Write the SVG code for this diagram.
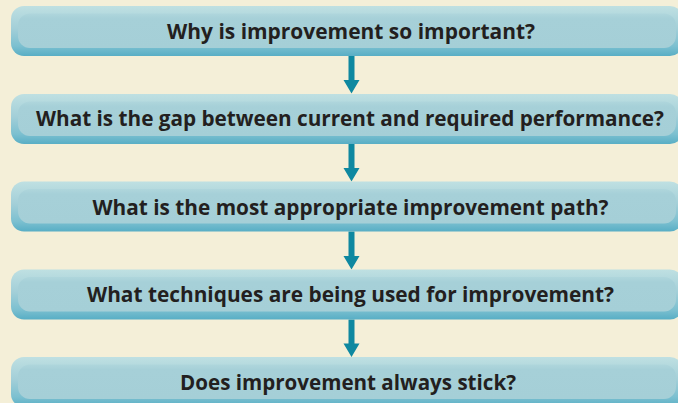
<svg xmlns="http://www.w3.org/2000/svg" width="678" height="403" viewBox="0 0 678 403">
<defs>
<linearGradient id="outerG" x1="0" y1="0" x2="0" y2="1">
<stop offset="0" stop-color="#BFE0E2"/>
<stop offset="0.45" stop-color="#A3CFD8"/>
<stop offset="0.8" stop-color="#7CC0D0"/>
<stop offset="1" stop-color="#58AEC5"/>
</linearGradient>
<linearGradient id="innerG" x1="0" y1="0" x2="0" y2="1">
<stop offset="0" stop-color="#AFD6DC"/>
<stop offset="0.15" stop-color="#A6D0D8"/>
<stop offset="1" stop-color="#A5CFD7"/>
</linearGradient>
<style>
.outer{fill:url(#outerG)}
.inner{fill:url(#innerG)}
.lbl{font-family:"Open Sans","Noto Sans","Liberation Sans",sans-serif;font-weight:bold;font-size:20.5px;fill:#231F20;text-anchor:middle}
.arr{fill:#0E88A0}
</style>
</defs>
<rect width="678" height="403" fill="#F4EFD8"/>
<g id="connectors">
<path class="arr" d="M348.5 56 H354.5 V80 H359.5 L351.5 93.5 L343.5 80 H348.5 Z"/>
<path class="arr" d="M348.5 144 H354.5 V168 H359.5 L351.5 181.5 L343.5 168 H348.5 Z"/>
<path class="arr" d="M348.5 231.5 H354.5 V256 H359.5 L351.5 269.5 L343.5 256 H348.5 Z"/>
<path class="arr" d="M348.5 319.5 H354.5 V343.5 H359.5 L351.5 357 L343.5 343.5 H348.5 Z"/>
</g>
<g id="node1">
<rect class="outer" x="11" y="6" width="672" height="50" rx="13"/>
<rect class="inner" x="18" y="13.5" width="658" height="34.5" rx="12"/>
<text class="lbl" x="351" y="38.5" textLength="368" lengthAdjust="spacingAndGlyphs">Why is improvement so important?</text>
</g>
<g id="node2">
<rect class="outer" x="11" y="94" width="672" height="50" rx="13"/>
<rect class="inner" x="18" y="101.5" width="658" height="34.5" rx="12"/>
<text class="lbl" x="350" y="126" textLength="628" lengthAdjust="spacingAndGlyphs">What is the gap between current and required performance?</text>
</g>
<g id="node3">
<rect class="outer" x="11" y="181.5" width="672" height="50" rx="13"/>
<rect class="inner" x="18" y="189" width="658" height="34.5" rx="12"/>
<text class="lbl" x="350.5" y="215" textLength="516" lengthAdjust="spacingAndGlyphs">What is the most appropriate improvement path?</text>
</g>
<g id="node4">
<rect class="outer" x="11" y="269.5" width="672" height="50" rx="13"/>
<rect class="inner" x="18" y="277" width="658" height="34.5" rx="12"/>
<text class="lbl" x="350.5" y="302" textLength="527" lengthAdjust="spacingAndGlyphs">What techniques are being used for improvement?</text>
</g>
<g id="node5">
<rect class="outer" x="11" y="357" width="672" height="50" rx="13"/>
<rect class="inner" x="18" y="364.5" width="658" height="34.5" rx="12"/>
<text class="lbl" x="348" y="390" textLength="336" lengthAdjust="spacingAndGlyphs">Does improvement always stick?</text>
</g>
</svg>
